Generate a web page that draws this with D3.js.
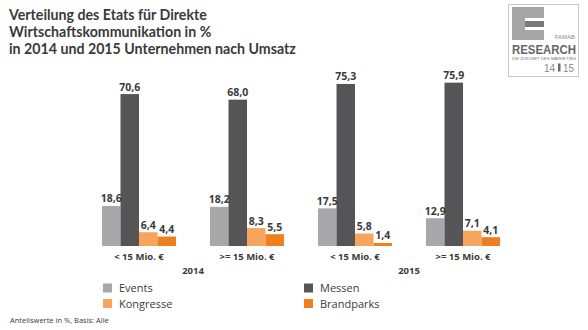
<!DOCTYPE html>
<meta charset="utf-8">
<title>Verteilung des Etats für Direkte Wirtschaftskommunikation</title>
<style>
  body {
    margin: 0;
    background: #fff;
  }

  svg text {
    font-family: "Open Sans", sans-serif;
    fill: #3a3a3a;
  }

  .title {
    font-family: Lato, sans-serif;
    font-size: 14.2px;
    font-weight: 700;
  }

  .value {
    font-size: 10.5px;
    font-weight: 700;
  }

  .cat {
    font-size: 9.5px;
    font-weight: 700;
  }

  .legend text {
    font-size: 11px;
  }

  .note {
    font-size: 7.5px;
  }

  .logo text {
    font-family: "Liberation Sans Narrow", "Liberation Sans", sans-serif;
    fill: #8a8a8a;
  }
</style>
<svg width="588" height="330"></svg>
<script src="https://cdn.jsdelivr.net/npm/d3@7"></script>
<script>
  var titleLines = [
    "Verteilung des Etats für Direkte",
    "Wirtschaftskommunikation in %",
    "in 2014 und 2015 Unternehmen nach Umsatz"
  ];

  var groups = ["< 15 Mio. €", ">= 15 Mio. €", "< 15 Mio. €", ">= 15 Mio. €"];
  var years = ["2014", "2015"];

  var seriesNames = ["Events", "Messen", "Kongresse", "Brandparks"];
  var events = [18.6, 18.2, 17.5, 12.9];
  var messen = [70.6, 68.0, 75.3, 75.9];
  var kongresse = [6.4, 8.3, 5.8, 7.1];
  var brandparks = [4.4, 5.5, 1.4, 4.1];

  var colors = ["#a8a8ab", "#555557", "#f7a45e", "#f0801f"];

  var series = [events, messen, kongresse, brandparks];

  var svg = d3.select("svg");

  var locale = d3.formatLocale({decimal: ",", thousands: ".", grouping: [3], currency: ["", " €"]});
  var fmt = locale.format(".1f");

  // title
  svg.append("g")
    .selectAll("text")
    .data(titleLines)
    .enter().append("text")
    .attr("class", "title")
    .attr("x", 9)
    .attr("y", function(d, i) { return 20 + i * 17; })
    .text(function(d) { return d; });

  var x0 = d3.scaleBand()
    .domain(d3.range(groups.length))
    .range([102, 500])
    .paddingInner(0.315)
    .paddingOuter(0);

  var x1 = d3.scaleBand()
    .domain(d3.range(seriesNames.length))
    .range([0, x0.bandwidth()]);

  var y = d3.scaleLinear()
    .domain([0, 80])
    .range([246, 246 - 80 * 2.152]);

  var rows = groups.map(function(g, i) {
    return series.map(function(s, k) { return {k: k, value: s[i]}; });
  });

  var group = svg.append("g")
    .selectAll("g")
    .data(rows)
    .enter().append("g")
    .attr("transform", function(d, i) { return "translate(" + x0(i) + ",0)"; });

  group.selectAll("rect")
    .data(function(d) { return d; })
    .enter().append("rect")
    .attr("x", function(d) { return x1(d.k); })
    .attr("y", function(d) { return y(d.value); })
    .attr("width", x1.bandwidth())
    .attr("height", function(d) { return y(0) - y(d.value); })
    .attr("fill", function(d) { return colors[d.k]; });

  group.selectAll("text.value")
    .data(function(d) { return d; })
    .enter().append("text")
    .attr("class", "value")
    .attr("x", function(d) { return x1(d.k) + x1.bandwidth() / 2; })
    .attr("y", function(d) { return y(d.value) - 3.5; })
    .attr("text-anchor", "middle")
    .text(function(d) { return fmt(d.value); });

  group.append("text")
    .attr("class", "cat")
    .attr("x", x0.bandwidth() / 2)
    .attr("y", 260)
    .attr("text-anchor", "middle")
    .text(function(d, i) { return groups[i]; });

  // year labels under each pair of groups
  svg.append("g")
    .selectAll("text")
    .data(years)
    .enter().append("text")
    .attr("class", "cat")
    .attr("x", function(d, i) {
      return (x0(i * 2) + x0(i * 2 + 1) + x0.bandwidth()) / 2;
    })
    .attr("y", 274)
    .attr("text-anchor", "middle")
    .text(function(d) { return d; });

  // legend, two columns
  var legend = svg.append("g")
    .attr("class", "legend")
    .selectAll("g")
    .data(seriesNames)
    .enter().append("g")
    .attr("transform", function(d, i) {
      var col = i % 2, row = Math.floor(i / 2);
      return "translate(" + (103 + col * 201) + "," + (283.5 + row * 15.5) + ")";
    });

  legend.append("rect")
    .attr("width", 9)
    .attr("height", 9)
    .attr("fill", function(d, i) { return colors[i]; });

  legend.append("text")
    .attr("x", 16)
    .attr("y", 8.5)
    .text(function(d) { return d; });

  svg.append("text")
    .attr("class", "note")
    .attr("x", 10)
    .attr("y", 323)
    .text("Anteilswerte in %, Basis: Alle");

  // FAMAB research logo
  var logo = svg.append("g")
    .attr("class", "logo")
    .attr("transform", "translate(508,4)");

  logo.append("rect")
    .attr("x", 0.5).attr("y", 0.5)
    .attr("width", 70).attr("height", 72)
    .attr("fill", "#fff")
    .attr("stroke", "#c8c8c8");

  logo.append("rect")
    .attr("x", 4).attr("y", 3)
    .attr("width", 32).attr("height", 33)
    .attr("fill", "#a6a6a6");

  logo.append("rect")
    .attr("x", 17).attr("y", 14)
    .attr("width", 19).attr("height", 12)
    .attr("fill", "#fff");

  logo.append("rect")
    .attr("x", 17).attr("y", 17)
    .attr("width", 19).attr("height", 6)
    .attr("fill", "#7b7b7b");

  logo.append("text")
    .attr("x", 67).attr("y", 35)
    .attr("text-anchor", "end")
    .style("font-size", "6px")
    .text("FAMAB");

  logo.append("text")
    .attr("x", 4).attr("y", 49.5)
    .attr("textLength", 64)
    .attr("lengthAdjust", "spacingAndGlyphs")
    .style("font-size", "13px")
    .style("font-weight", 700)
    .style("fill", "#666")
    .text("RESEARCH");

  logo.append("text")
    .attr("x", 4).attr("y", 56)
    .attr("textLength", 64)
    .attr("lengthAdjust", "spacingAndGlyphs")
    .style("font-size", "3.5px")
    .style("fill", "#777")
    .text("DIE ZUKUNFT DES MARKETING");

  logo.append("text")
    .attr("x", 36).attr("y", 67.5)
    .style("font-size", "10px")
    .text("14");

  logo.append("rect")
    .attr("x", 50).attr("y", 59.5)
    .attr("width", 2.5).attr("height", 8)
    .attr("fill", "#6a6a6a");

  logo.append("text")
    .attr("x", 55).attr("y", 67.5)
    .style("font-size", "10px")
    .text("15");
</script>
